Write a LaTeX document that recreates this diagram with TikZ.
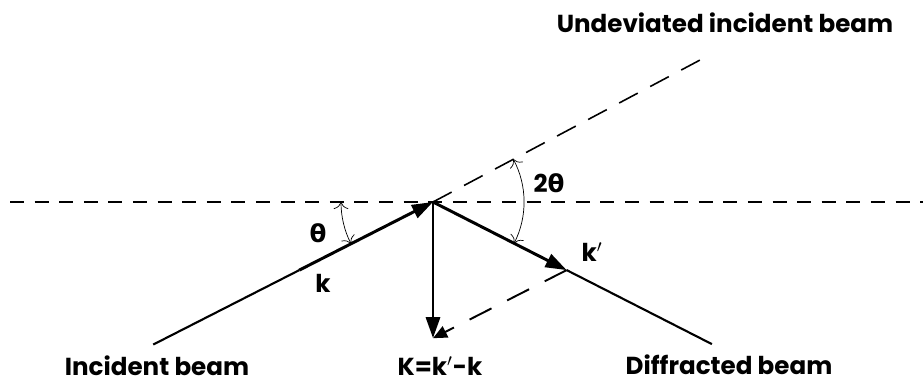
\documentclass[tikz,border=0pt]{standalone}
\usepackage{fontspec}
\setmainfont{Poppins}
\newfontfamily\grk{DejaVu Sans}
\usepackage{tikz}
\usetikzlibrary{arrows.meta, calc}

\tikzset{
  beam/.style={line width=1.2pt},
  wavevec/.style={line width=1.7pt, -{Triangle[length=12pt, width=8pt]}},
  refline/.style={line width=0.8pt, dash pattern=on 8pt off 6pt},
  anglearc/.style={thin, {To[length=4pt]}-{To[length=4pt]}},
  lbl/.style={font=\fontsize{14}{16}\selectfont\bfseries}
}

\begin{document}
\begin{tikzpicture}[x=0.02cm, y=0.02cm, >=Stealth]
    \useasboundingbox (0,0) rectangle (923,383);

    % Scattering point and wave vector tips
    \coordinate (O) at (433,181);
    \coordinate (kin) at ($(O)+(207:150)$);
    \coordinate (kout) at ($(O)+(-27:150)$);
    \coordinate (Ktip) at ($(kout)+(207:150)$);

    % Beam ends
    \coordinate (inStart) at ($(O)+(207:314)$);
    \coordinate (outEnd) at ($(O)+(-27:313)$);
    \coordinate (undevEnd) at ($(O)+(28:312)$);
    \coordinate (hLeft) at (10,181);
    \coordinate (hRight) at (923,181);

    % Horizontal reference line
    \draw[refline] (hLeft) -- (hRight);

    % Undeviated incident beam (dashed)
    \draw[line width=0.9pt, dash pattern=on 12pt off 8pt] (O) -- (undevEnd);

    % Incident and diffracted beams
    \draw[beam] (inStart) -- (kin);
    \draw[wavevec] (kin) -- (O);
    \draw[beam] (kout) -- (outEnd);
    \draw[wavevec] (O) -- (kout);

    % Scattering vector K and -k
    \draw[wavevec] (O) -- (Ktip);
    \draw[line width=1.1pt, dash pattern=on 14pt off 10pt,
          -{Triangle[length=8pt, width=7pt]}] (kout) -- (Ktip);

    % Angle arcs
    \draw[anglearc] ($(O)+(180:92)$) arc (180:207:92);
    \draw[anglearc] ($(O)+(28:91)$) arc (28:-27:91);

    % Labels
    \node[lbl] (theta) at (318,150) {\grk θ};
    \node[lbl] (twotheta) at (549,200) {2{\grk θ}};
    \node[lbl] (klbl) at (323,100) {k};
    \node[lbl] (kplbl) at (592,131) {k$'$};
    \node[lbl] (Klbl) at (440,17) {K=k$'$-k};
    \node[lbl] (inc) at (157,17) {Incident beam};
    \node[lbl] (diff) at (729,18) {Diffracted beam};
    \node[lbl] (undev) at (725,360) {Undeviated incident beam};
\end{tikzpicture}
\end{document}
